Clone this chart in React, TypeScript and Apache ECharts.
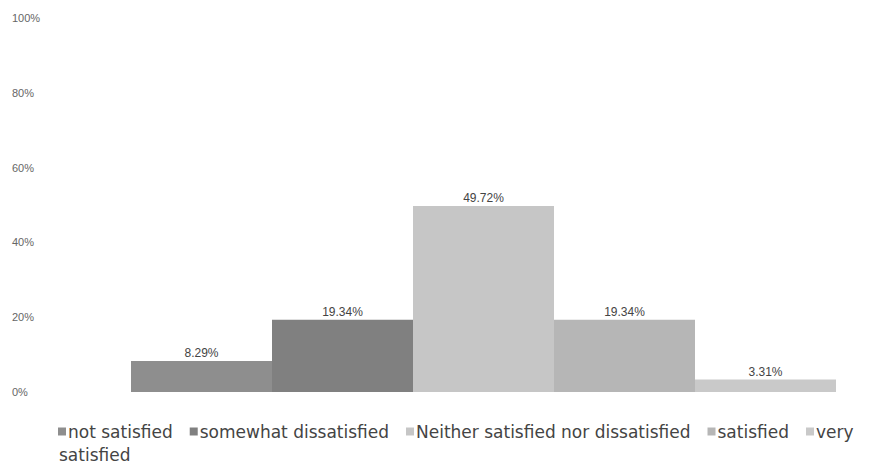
import React, { useEffect, useRef } from "react";
import * as echarts from "echarts";

const seriesNames = [
  "not satisfied",
  "somewhat dissatisfied",
  "Neither satisfied nor dissatisfied",
  "satisfied",
  "very satisfied",
];
const seriesValues = [8.29, 19.34, 49.72, 19.34, 3.31];
const seriesColors = ["#8e8e8e", "#808080", "#c6c6c6", "#b6b6b6", "#c9c9c9"];
const categories = ["Satisfaction"];

export default function App() {
  const ref = useRef<HTMLDivElement>(null);
  useEffect(() => {
    if (!ref.current) return;
    const chart = echarts.init(ref.current, null, { renderer: "svg" });
    chart.setOption({
      animation: false,
      grid: { left: 123, right: 27, top: 10, bottom: 73, containLabel: false },
      xAxis: {
        type: "category",
        data: categories,
        axisLine: { show: false },
        axisTick: { show: false },
        axisLabel: { show: false },
      },
      yAxis: {
        type: "value",
        min: 0,
        max: 100,
        interval: 20,
        splitLine: { show: false },
        axisLine: { show: false },
        axisTick: { show: false },
        axisLabel: {
          formatter: "{value}%",
          align: "left",
          margin: 119,
          color: "#666",
          fontSize: 11,
          fontFamily: "Liberation Sans",
        },
      },
      legend: {
        left: 50,
        top: 415,
        width: 840,
        padding: 0,
        itemWidth: 8,
        itemHeight: 8,
        itemGap: 17,
        icon: "rect",
        formatter: (name: string) => (name === "very satisfied" ? "very" : name),
        textStyle: {
          color: "#444",
          fontSize: 17,
          fontFamily: "DejaVu Sans",
          padding: [0, 0, 0, -3],
        },
        data: seriesNames,
      },
      graphic: [
        {
          type: "text",
          left: 51,
          top: 438,
          style: {
            text: "satisfied",
            fill: "#444",
            fontSize: 17,
            fontFamily: "DejaVu Sans",
          },
        },
      ],
      series: seriesNames.map((name, i) => ({
        name,
        type: "bar",
        data: [seriesValues[i]],
        barGap: "0%",
        barCategoryGap: "0%",
        itemStyle: { color: seriesColors[i] },
        label: {
          show: true,
          position: "top",
          distance: 2,
          formatter: (p: any) => `${p.value.toFixed(2)}%`,
          color: "#444",
          fontSize: 12,
          fontFamily: "Liberation Sans",
        },
      })),
    });
    return () => chart.dispose();
  }, []);
  return <div ref={ref} style={{ width: 855, height: 457 }} />;
}
